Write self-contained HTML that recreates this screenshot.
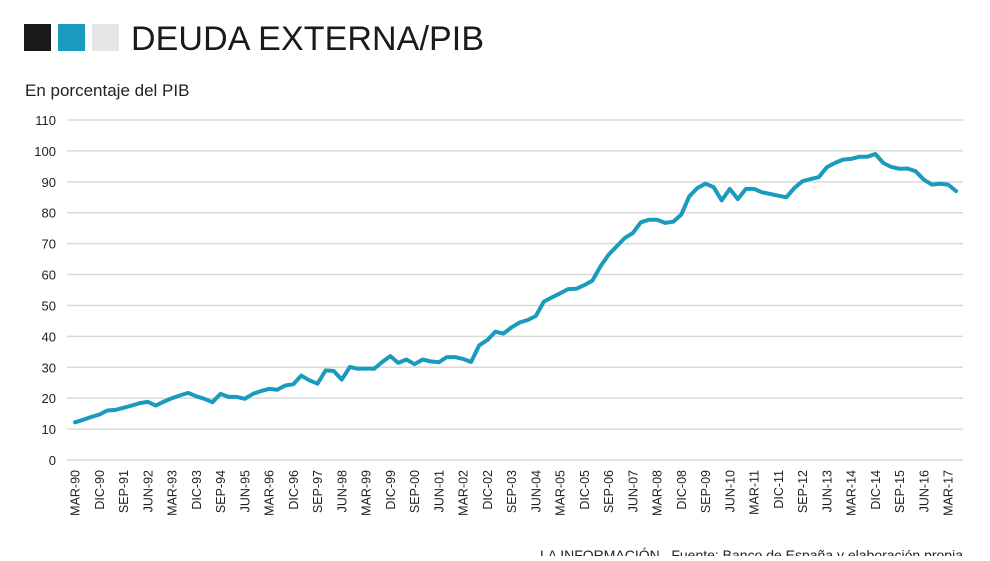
<!DOCTYPE html>
<html><head><meta charset="utf-8"><style>
body{margin:0;background:#fff;width:990px;height:556px;overflow:hidden;font-family:"Liberation Sans",sans-serif}
</style></head><body>
<svg width="990" height="556" xmlns="http://www.w3.org/2000/svg">
<rect x="24" y="24" width="27" height="27" fill="#1a1a1a"/>
<rect x="58" y="24" width="27" height="27" fill="#1a9bbd"/>
<rect x="92" y="24" width="27" height="27" fill="#e6e6e6"/>
<text x="131" y="50" font-size="34" fill="#1a1a1a" textLength="353">DEUDA EXTERNA/PIB</text>
<text x="25" y="96" font-size="17" fill="#222">En porcentaje del PIB</text>
<g id="grid"></g><g id="ylab"></g><g id="xlab"></g>
<path id="line" fill="none" stroke="#1a9bbd" stroke-width="4" stroke-linejoin="round" stroke-linecap="round"/>
<text x="963" y="560" font-size="14" fill="#222" text-anchor="end" textLength="423">LA INFORMACIÓN . Fuente: Banco de España y elaboración propia</text>
</svg>
<script>
const values=[12.2,13,13.9,14.7,16,16.2,16.9,17.6,18.4,18.8,17.6,18.9,20,20.9,21.7,20.6,19.8,18.7,21.4,20.4,20.4,19.8,21.4,22.3,23,22.7,24.1,24.5,27.3,25.8,24.7,29,28.8,26,30.1,29.5,29.6,29.5,31.7,33.6,31.4,32.5,31,32.5,31.9,31.6,33.3,33.3,32.7,31.7,37.1,38.8,41.5,40.9,42.9,44.5,45.3,46.6,51.2,52.6,53.9,55.3,55.4,56.6,58,62.6,66.4,69.1,71.8,73.4,76.9,77.7,77.7,76.7,77.1,79.4,85.3,88,89.4,88.3,84,87.7,84.4,87.7,87.7,86.6,86.1,85.5,85,88,90.2,90.9,91.5,94.7,96.1,97.2,97.4,98.1,98.1,99,96.1,94.8,94.2,94.3,93.4,90.7,89.1,89.4,89.1,87];
const xLabels=["MAR-90","DIC-90","SEP-91","JUN-92","MAR-93","DIC-93","SEP-94","JUN-95","MAR-96","DIC-96","SEP-97","JUN-98","MAR-99","DIC-99","SEP-00","JUN-01","MAR-02","DIC-02","SEP-03","JUN-04","MAR-05","DIC-05","SEP-06","JUN-07","MAR-08","DIC-08","SEP-09","JUN-10","MAR-11","DIC-11","SEP-12","JUN-13","MAR-14","DIC-14","SEP-15","JUN-16","MAR-17"];
const yTicks=[0,10,20,30,40,50,60,70,80,90,100,110];
const NS="http://www.w3.org/2000/svg";
const x=q=>75+q*(873/108);
const y=v=>460-v*(340/110);
const grid=document.getElementById('grid'),yl=document.getElementById('ylab'),xl=document.getElementById('xlab');
yTicks.forEach(t=>{
 const l=document.createElementNS(NS,'line');
 l.setAttribute('x1',67);l.setAttribute('x2',963);l.setAttribute('y1',y(t));l.setAttribute('y2',y(t));
 l.setAttribute('stroke','#d9d9d9');l.setAttribute('stroke-width','1.5');
 
 
 grid.appendChild(l);
 const tx=document.createElementNS(NS,'text');
 tx.setAttribute('x',56);tx.setAttribute('y',y(t)+5);tx.setAttribute('text-anchor','end');
 tx.setAttribute('font-size','13');tx.setAttribute('fill','#222');tx.textContent=t;
 
 
 yl.appendChild(tx);
});
xLabels.forEach((s,i)=>{
 const px=x(i*3);
 const tx=document.createElementNS(NS,'text');
 tx.setAttribute('transform','translate('+(px+4.5)+',470) rotate(-90)');
 tx.setAttribute('text-anchor','end');tx.setAttribute('font-size','12.5');tx.setAttribute('fill','#222');
 tx.textContent=s;
 
 
 xl.appendChild(tx);
});
document.getElementById('line').setAttribute('d',values.map((v,i)=>(i?'L':'M')+x(i).toFixed(1)+','+y(v).toFixed(1)).join(''));
</script>
</body></html>
